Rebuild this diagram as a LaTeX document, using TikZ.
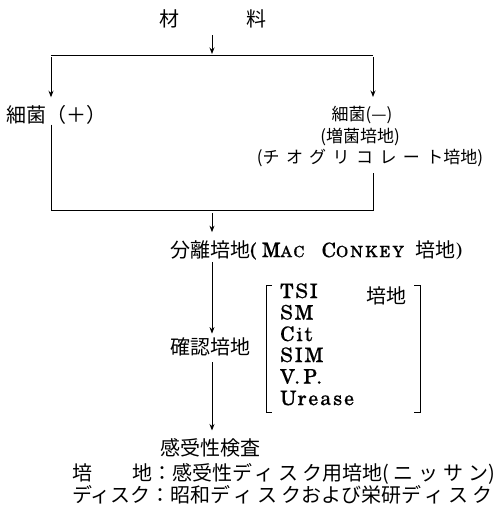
\documentclass[tikz,border=0pt]{standalone}
\usepackage{fontspec}
\setmainfont{Noto Sans CJK JP}
\newfontfamily\lat{TeX Gyre Schola}
\usetikzlibrary{arrows.meta}
\newcommand\ls[2][20]{{\addfontfeature{LetterSpace=#1}#2}}
\newcommand\scap[1]{{\fontsize{15.5}{15.5}\selectfont #1}}
\tikzset{
  lbl/.style={inner sep=0pt,font=\fontsize{20}{20}\selectfont},
  sm/.style={inner sep=0pt,font=\fontsize{17}{17}\selectfont},
  lst/.style={inner sep=0pt,anchor=base west,font=\fontsize{20}{20}\selectfont\lat\addfontfeature{LetterSpace=9,FakeBold=0.4}},
  arr/.style={line width=0.9pt,-{Stealth[length=6.5pt,width=5pt]}},
  ln/.style={line width=0.9pt},
}
\begin{document}
\begin{tikzpicture}[x=1pt,y=-1pt]
\useasboundingbox (0,0) rectangle (499,506);
% text nodes
\node[lbl] (mat) at (212.5,19) {材\hspace{67pt}料};
\node[lbl] (bp) at (56,115) {細菌（＋）};
\node[sm] (r1) at (362,115) {細菌(—)};
\node[sm] (r2) at (360,137) {(増菌培地)};
\node[sm] (r3) at (370,158) {(\ls[38]{チオグリコレート}培地)};
\node[lbl,anchor=west] (bunri) at (170,250) {分離培地{\lat\addfontfeature{LetterSpace=14,FakeBold=0.4}(\hspace{5pt}M\scap{AC}\hspace{17pt}C\scap{ONKEY}}\hspace{12pt}培地{\lat )}};
\node[lbl] (kakunin) at (210,347) {確認培地};
\foreach \t/\b [count=\i] in {TSI/298, SM/319.5, Cit/341, SIM/362, V.\,P./383.5, Urease/405}
  \node[lst] (l\i) at (280,\b) {\t};
\node[lbl] (tb) at (386,296) {培地};
\node[lbl] (kanju) at (210,448) {感受性検査};
\node[lbl,anchor=west] (baichi) at (72,474) {培\hspace{2em}地：感受性\ls{ディスク}用培地(\hspace{4pt}\ls[25]{ニッサン})};
\node[lbl,anchor=west] (disk) at (72,495) {ディスク：昭和\ls{ディスク}および栄研\ls{ディスク}};
% coordinates
\coordinate (ax) at (212,0);
\coordinate (tl) at (51,55);
\coordinate (tr) at (373,55);
\coordinate (sp) at (212,55);
\coordinate (bl) at (51,210);
\coordinate (br) at (373,210);
\coordinate (bm) at (212,210);
% connectors
\draw[arr,shorten <=7pt,shorten >=1pt] (mat.south -| ax) -- (sp);
\draw[ln] (tl) -- (tr);
\draw[arr,shorten <=2pt,shorten >=8pt] (tl) -- (tl |- bp.north);
\draw[arr,shorten <=2pt,shorten >=9pt] (tr) -- (tr |- r1.north);
\draw[ln,shorten >=6pt] (bp.south -| bl) -- (bl) -- (br) -- (r3.south -| br);
\draw[arr,shorten <=3pt,shorten >=8pt] (bm) -- (bunri.north -| ax);
\draw[arr,shorten <=2pt,shorten >=4pt] (bunri.south -| ax) -- (kakunin.north -| ax);
\draw[arr,shorten <=6pt,shorten >=8pt] (kakunin.south -| ax) -- (kanju.north -| ax);
% brackets
\draw[ln] (272,285) -- (266,285) -- (266,412) -- (272,412);
\draw[ln] (414,285) -- (420,285) -- (420,412) -- (414,412);
\end{tikzpicture}
\end{document}
